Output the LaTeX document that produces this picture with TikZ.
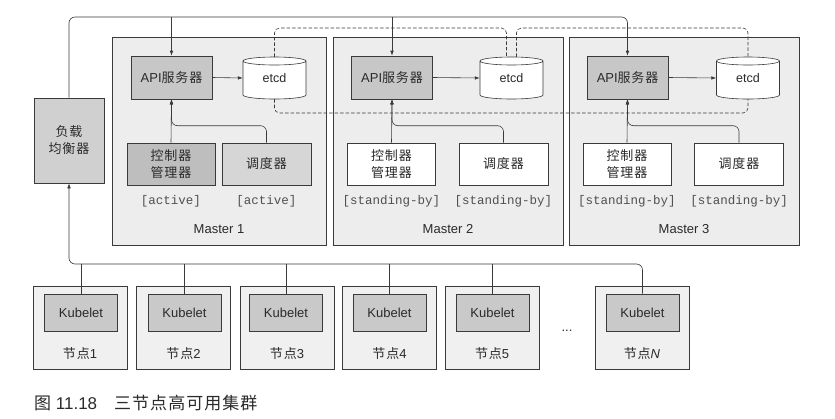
\documentclass[tikz,border=0pt]{standalone}
\usepackage{fontspec}
\setmainfont{Liberation Sans}
\setmonofont{Liberation Mono}
\newfontfamily\cjk[LetterSpace=6]{Noto Sans CJK SC}
\usetikzlibrary{arrows.meta}
\definecolor{ln}{HTML}{3A3A3A}
\definecolor{txt}{HTML}{2A2A2A}
\definecolor{tagc}{HTML}{505050}
\definecolor{mbg}{HTML}{EDEDED}
\definecolor{nbg}{HTML}{F0F0F0}
\definecolor{apif}{HTML}{C7C7C7}
\definecolor{ctlf}{HTML}{BEBEBE}
\definecolor{schf}{HTML}{D6D6D6}
\definecolor{lbf}{HTML}{D0D0D0}
\definecolor{kubf}{HTML}{C9C9C9}
\newcommand{\etcdcyl}[2]{%
  \path[draw=ln, line width=0.6pt, fill=white]
    (#1-31.5,#2+17) -- (#1-31.5,#2-17)
    arc[start angle=180,end angle=360,x radius=31.5pt,y radius=4pt]
    -- (#1+31.5,#2+17)
    arc[start angle=0,end angle=180,x radius=31.5pt,y radius=4pt]
    arc[start angle=180,end angle=360,x radius=31.5pt,y radius=4pt];}
\begin{document}
\begin{tikzpicture}[x=1pt,y=1pt,
  line/.style={draw=ln, line width=0.6pt},
  arr/.style={line, -{Latex[length=5pt,width=3.6pt]}},
  dsh/.style={line, dash pattern=on 3.5pt off 2pt},
  box/.style={draw=ln, line width=0.6pt, inner sep=0pt, align=center,
    font=\fontsize{13}{17}\selectfont, text=txt},
  master/.style={box, fill=mbg, minimum height=208pt},
  api/.style={box, fill=apif, minimum width=81pt, minimum height=43pt},
  ctl/.style={box, minimum width=88pt, minimum height=42pt},
  sch/.style={box, minimum width=89pt, minimum height=42pt},
  etcd/.style={inner sep=0pt, minimum width=63pt, minimum height=42pt,
    font=\fontsize{12.5}{14}\selectfont, text=txt},
  tag/.style={font=\ttfamily\fontsize{12.5}{14}\selectfont, text=tagc, inner sep=0pt},
  lbl/.style={font=\fontsize{13}{15}\selectfont, text=txt, inner sep=0pt},
  nodebox/.style={box, fill=nbg, minimum width=94pt, minimum height=83pt},
  kub/.style={box, fill=kubf, minimum width=73pt, minimum height=37pt},
  rc/.style={rounded corners=6pt}
]
\useasboundingbox[fill=white] (0,0) rectangle (835,-418);

% Master boxes
\node[master, minimum width=214pt] (m1) at (219,-141) {};
\node[master, minimum width=230pt] (m2) at (448,-141) {};
\node[master, minimum width=230pt] (m3) at (684,-141) {};
\node[lbl] (m1l) at (219,-229) {Master 1};
\node[lbl] (m2l) at (448,-229) {Master 2};
\node[lbl] (m3l) at (684,-229) {Master 3};

% etcd cylinders
\etcdcyl{274.5}{-78}
\etcdcyl{511.5}{-78}
\etcdcyl{748}{-78}
\node[etcd] (e1) at (274.5,-78) {etcd};
\node[etcd] (e2) at (511.5,-78) {etcd};
\node[etcd] (e3) at (748,-78) {etcd};

% API servers
\node[api] (a1) at (171.5,-77.5) {API{\cjk 服务器}};
\node[api] (a2) at (392,-77.5) {API{\cjk 服务器}};
\node[api] (a3) at (627.5,-77.5) {API{\cjk 服务器}};

% controllers and schedulers
\node[ctl, fill=ctlf] (c1) at (171,-164) {{\cjk 控制器}\\{\cjk 管理器}};
\node[sch, fill=schf] (s1) at (266.5,-164) {{\cjk 调度器}};
\node[ctl, fill=white] (c2) at (391.5,-164) {{\cjk 控制器}\\{\cjk 管理器}};
\node[sch, fill=white] (s2) at (503.5,-164) {{\cjk 调度器}};
\node[ctl, fill=white] (c3) at (627,-164) {{\cjk 控制器}\\{\cjk 管理器}};
\node[sch, fill=white] (s3) at (739,-164) {{\cjk 调度器}};

\node[tag] (t1) at (171,-201) {[active]};
\node[tag] (t2) at (266.5,-201) {[active]};
\node[tag] (t3) at (391.5,-201) {[standing-by]};
\node[tag] (t4) at (503.5,-201) {[standing-by]};
\node[tag] (t5) at (627,-201) {[standing-by]};
\node[tag] (t6) at (739,-201) {[standing-by]};

% load balancer
\node[box, fill=lbf, minimum width=70pt, minimum height=85pt] (lb) at (69,-140.5)
  {{\cjk 负载}\\{\cjk 均衡器}};

% worker nodes
\node[nodebox] (n1) at (80,-327.5) {};
\node[nodebox] (n2) at (183.5,-327.5) {};
\node[nodebox] (n3) at (287,-327.5) {};
\node[nodebox] (n4) at (389.5,-327.5) {};
\node[nodebox] (n5) at (492,-327.5) {};
\node[nodebox] (nN) at (642,-327.5) {};
\node[kub] (k1) at (81,-312.5) {Kubelet};
\node[kub] (k2) at (184.5,-312.5) {Kubelet};
\node[kub] (k3) at (286,-312.5) {Kubelet};
\node[kub] (k4) at (389.5,-312.5) {Kubelet};
\node[kub] (k5) at (492.5,-312.5) {Kubelet};
\node[kub] (kN) at (642.5,-312.5) {Kubelet};
\node[lbl] (l1) at (80,-354) {{\cjk 节点}1};
\node[lbl] (l2) at (183.5,-354) {{\cjk 节点}2};
\node[lbl] (l3) at (287,-354) {{\cjk 节点}3};
\node[lbl] (l4) at (389.5,-354) {{\cjk 节点}4};
\node[lbl] (l5) at (492,-354) {{\cjk 节点}5};
\node[lbl] (lN) at (642,-354) {{\cjk 节点}\textit{N}};
\node[lbl] (dots) at (567,-331) {...};

% bus coordinates
\coordinate (tbus) at (300,-17);
\coordinate (busL) at (69,-264);
\coordinate (dtop1) at (400,-28);
\coordinate (dtop2) at (620,-28);
\coordinate (dbot) at (500,-113);

% top bus to API servers
\draw[arr, rc] (lb.north) |- (tbus) -| (a3.north);
\draw[arr] (a1.north |- tbus) -- (a1.north);
\draw[arr] (a2.north |- tbus) -- (a2.north);

% bottom bus from kubelets to load balancer
\draw[arr, rc] (kN.north) |- (busL) -- (lb.south);
\draw[line] (k1.north) -- (k1.north |- busL);
\draw[line] (k2.north) -- (k2.north |- busL);
\draw[line] (k3.north) -- (k3.north |- busL);
\draw[line] (k4.north) -- (k4.north |- busL);
\draw[line] (k5.north) -- (k5.north |- busL);

% inside masters
\draw[arr] (a1.east) -- (e1.west);
\draw[arr] (a2.east) -- (e2.west);
\draw[arr] (a3.east) -- (e3.west);
\draw[arr] (c1.north) -- (a1.south);
\draw[arr] (c2.north) -- (a2.south);
\draw[arr] (c3.north) -- (a3.south);
\draw[arr, rc] (s1.north) -- ++(0,17) -| (a1.south);
\draw[arr, rc] (s2.north) -- ++(0,17) -| (a2.south);
\draw[arr, rc] (s3.north) -- ++(0,17) -| (a3.south);

% etcd replication (dashed)
\draw[dsh, rounded corners=5pt] (e1.north) |- (dtop1) -| ([xshift=-5pt]e2.north);
\draw[dsh, rounded corners=5pt] ([xshift=5pt]e2.north) |- (dtop2) -| (e3.north);
\draw[dsh, rounded corners=5pt] (e1.south) |- (dbot) -| (e3.south);

% caption
\node[anchor=west, inner sep=0pt, text=txt, font=\fontsize{17}{19}\selectfont] (cap) at (34,-403)
  {{\cjk 图} 11.18\hspace{17pt}{\cjk 三节点高可用集群}};
\end{tikzpicture}
\end{document}
